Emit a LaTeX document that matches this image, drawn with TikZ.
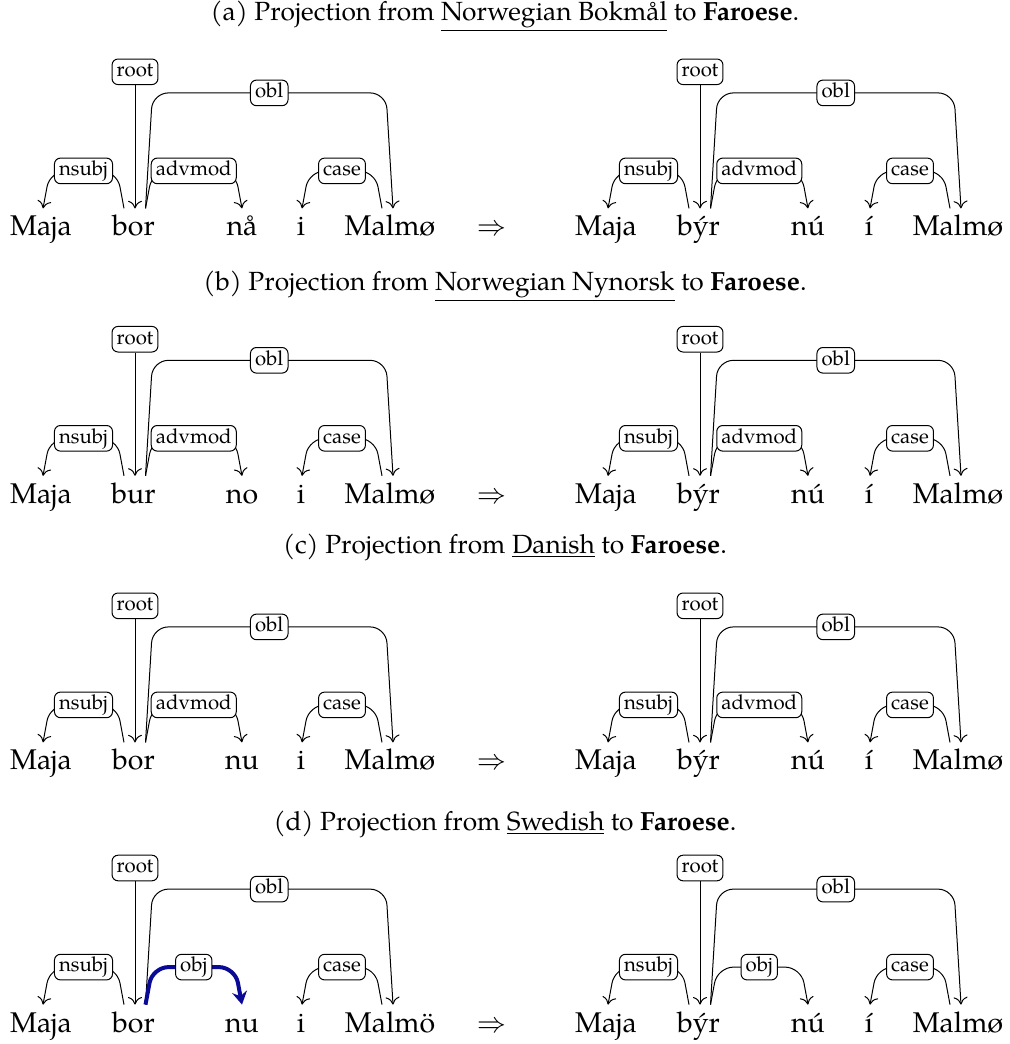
\documentclass[tikz,border=0pt]{standalone}
\usepackage{fontspec}
\setmainfont{texgyrepagella}[Extension=.otf,UprightFont=*-regular,BoldFont=*-bold,ItalicFont=*-italic,BoldItalicFont=*-bolditalic]
\usetikzlibrary{arrows.meta,calc}

\definecolor{deepblue}{RGB}{10,10,150}

\tikzset{
  word/.style={anchor=base, inner sep=0pt, text height=13.5pt,
    font=\fontsize{14.25pt}{17pt}\selectfont},
  lab/.style={draw=black, text=black, fill=white, rounded corners=3pt,
    line width=0.5pt, inner xsep=2.3pt, inner ysep=1.6pt,
    text height=7.2pt, text depth=2.4pt,
    font=\fontsize{10.2pt}{12pt}\selectfont},
  dep/.style={line width=0.5pt, rounded corners=8pt,
    -{To[length=3.8pt,width=7pt]}},
  hilite/.style={draw=deepblue, line width=2pt, rounded corners=8pt,
    -{Stealth[length=6.5pt,width=7.5pt,inset=2.2pt]}},
  midedge/.style={dep},
  caption/.style={anchor=base, inner sep=0pt,
    font=\fontsize{13.15pt}{16pt}\selectfont},
}

% column positions of the five words of a sentence
\newcommand\setcols[5]{\def\xa{#1}\def\xb{#2}\def\xc{#3}\def\xd{#4}\def\xe{#5}}

% labelled arc: style, from, to, slant at start, slant at end, rise, name, label
\newcommand\depedge[8]{%
  \draw[#1] (#2) -- ($(#2)+(#4,-#6)$) -- node[lab] (#7) {#8}
    ($(#3)+(#5,-#6)$) -- (#3);}

% one dependency tree: prefix, unused, root level, five words, middle label
\newcommand\deptree[9]{%
  \node[word] (#1-1) at (\xa, #3+164) {#4};
  \node[word] (#1-2) at (\xb, #3+164) {#5};
  \node[word] (#1-3) at (\xc, #3+164) {#6};
  \node[word] (#1-4) at (\xd, #3+164) {#7};
  \node[word] (#1-5) at (\xe, #3+164) {#8};
  \coordinate (#1-1in) at ([xshift=1pt]#1-1.north);
  \coordinate (#1-2l)  at ([xshift=-4.75pt]#1-2.north);
  \coordinate (#1-2r)  at ([xshift=6pt]#1-2.north);
  \coordinate (#1-3in) at (#1-3.north);
  \coordinate (#1-4in) at ([xshift=0.5pt]#1-4.north);
  \coordinate (#1-5l)  at ([xshift=-4pt]#1-5.north);
  \coordinate (#1-5in) at ([xshift=1.5pt]#1-5.north);
  \node[lab] (#1-root) at (\xb+1.5, #3) {root};
  \draw[dep] (#1-root.south) -- (#1-root.south |- #1-2.north);
  \depedge{dep}{#1-2r}{#1-5in}{7}{-7}{115.5}{#1-obl}{obl}
  \depedge{dep}{#1-2l}{#1-1in}{-7}{7}{37.5}{#1-nsubj}{nsubj}
  \depedge{midedge}{#1-2r}{#1-3in}{7}{-7}{37.5}{#1-mid}{#9}
  \depedge{dep}{#1-5l}{#1-4in}{-7}{7}{37.5}{#1-case}{case}
}

\begin{document}
\begin{tikzpicture}[x=0.5pt,y=-0.5pt]
\useasboundingbox (0,0) rectangle (1010,1044);

% (a) Bokmål
\node[caption] (capa) at (505,20)
  {(a) Projection from \underline{Norwegian Bokmål} to \textbf{Faroese}.};
\setcols{41}{133.5}{242}{301}{390}
\deptree{al}{0}{71.8}{Maja}{bor}{nå}{i}{Malmø}{advmod}
\node[word] (ato) at (491.5,235.8) {$\Rightarrow$};
\setcols{606}{698.5}{808}{869}{958}
\deptree{ar}{0}{71.8}{Maja}{býr}{nú}{í}{Malmø}{advmod}

% (b) Nynorsk
\node[caption] (capb) at (505,290)
  {(b) Projection from \underline{Norwegian Nynorsk} to \textbf{Faroese}.};
\setcols{41}{133.5}{242}{301}{390}
\deptree{bl}{0}{339.2}{Maja}{bur}{no}{i}{Malmø}{advmod}
\node[word] (bto) at (491.5,503.2) {$\Rightarrow$};
\setcols{606}{698.5}{808}{869}{958}
\deptree{br}{0}{339.2}{Maja}{býr}{nú}{í}{Malmø}{advmod}

% (c) Danish
\node[caption] (capc) at (505,553)
  {(c) Projection from \underline{Danish} to \textbf{Faroese}.};
\setcols{41}{133.5}{242}{301}{390}
\deptree{cl}{0}{605.8}{Maja}{bor}{nu}{i}{Malmø}{advmod}
\node[word] (cto) at (491.5,769.8) {$\Rightarrow$};
\setcols{606}{698.5}{808}{869}{958}
\deptree{cr}{0}{605.8}{Maja}{býr}{nú}{í}{Malmø}{advmod}

% (d) Swedish, with the changed relation highlighted
\node[caption] (capd) at (505,830)
  {(d) Projection from \underline{Swedish} to \textbf{Faroese}.};
\setcols{41}{133.5}{242}{301}{390}
\tikzset{midedge/.style={hilite}}
\deptree{dl}{0}{868}{Maja}{bor}{nu}{i}{Malmö}{obj}
\tikzset{midedge/.style={dep}}
\node[word] (dto) at (491.5,1032) {$\Rightarrow$};
\setcols{606}{698.5}{808}{869}{958}
\deptree{dr}{0}{868}{Maja}{býr}{nú}{í}{Malmø}{obj}
\end{tikzpicture}
\end{document}
